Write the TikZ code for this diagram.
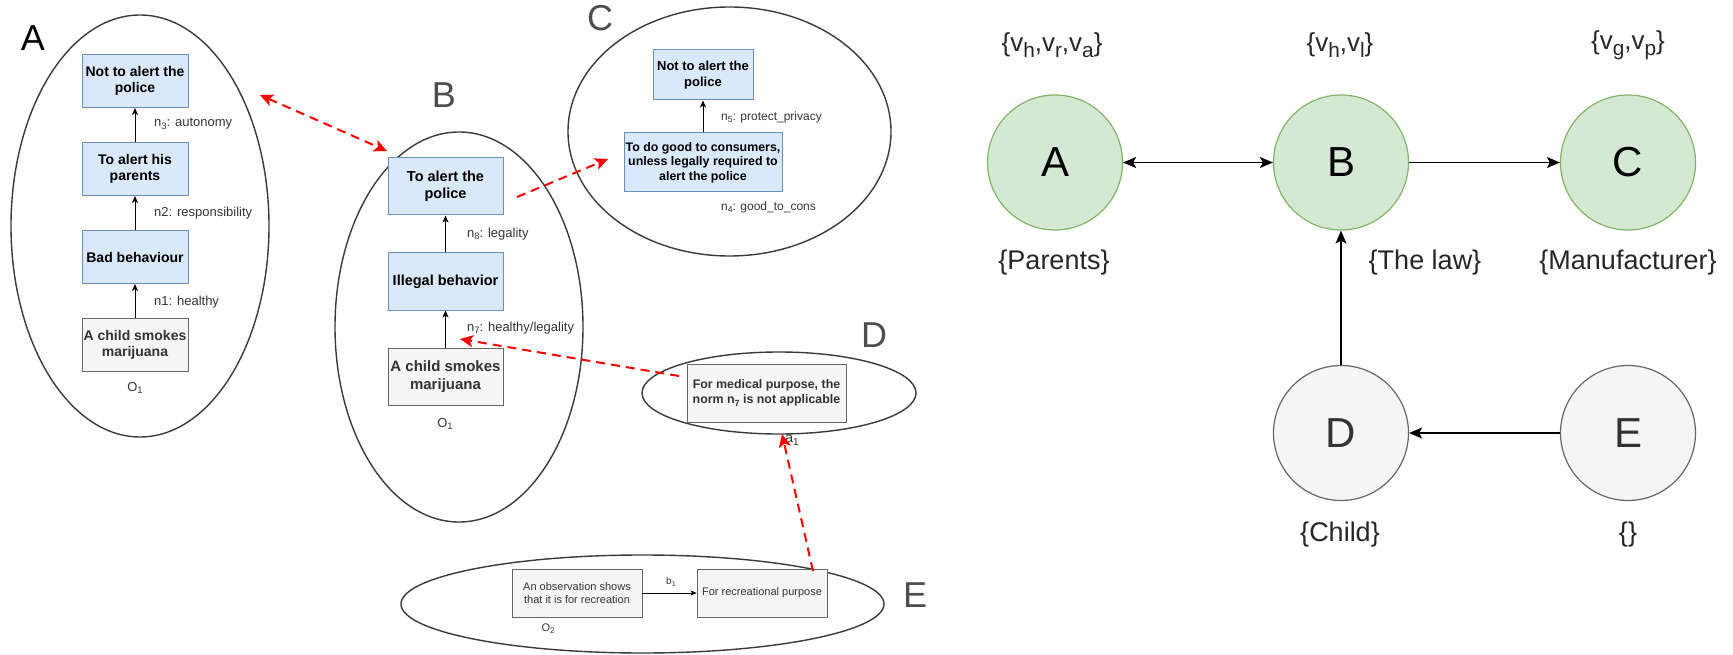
\documentclass[tikz,border=0pt]{standalone}
\usepackage{fontspec}
\setmainfont{Liberation Sans}
\usetikzlibrary{arrows.meta,shapes.geometric}

\definecolor{boxblue}{HTML}{6C8EBF}
\definecolor{fillblue}{HTML}{DAE8FC}
\definecolor{boxgray}{HTML}{666666}
\definecolor{fillgray}{HTML}{F5F5F5}
\definecolor{txtgray}{HTML}{333333}
\definecolor{letgray}{HTML}{4D4D4D}
\definecolor{blobline}{HTML}{3A3A3A}
\definecolor{greenfill}{HTML}{D5E8D4}
\definecolor{greenline}{HTML}{82B366}
\definecolor{linkred}{HTML}{FF0000}

% lowered, smaller text used for indices
\newcommand{\lsub}[1]{\raisebox{-0.35ex}{\scalebox{0.72}{#1}}}
\newcommand{\vsub}[1]{\raisebox{-0.4ex}{\scalebox{0.8}{#1}}}

\tikzset{
  bluebox/.style={draw=boxblue, fill=fillblue, line width=1pt, align=center,
    inner sep=0pt, font=\fontsize{14}{16.5}\selectfont\bfseries},
  graybox/.style={draw=boxgray, fill=fillgray, text=txtgray, line width=1pt,
    align=center, inner sep=0pt, font=\fontsize{14}{16.5}\selectfont\bfseries},
  plainbox/.style={draw=boxgray, fill=fillgray, text=txtgray, line width=0.8pt,
    align=center, inner sep=0pt, font=\fontsize{11}{13.5}\selectfont},
  setblob/.style={ellipse, draw=blobline, line width=1.4pt, inner sep=0pt},
  nlabel/.style={anchor=west, text=txtgray, inner sep=0pt, font=\fontsize{13}{15}\selectfont},
  olabel/.style={text=txtgray, inner sep=0pt, font=\fontsize{13}{15}\selectfont},
  bigletter/.style={inner sep=0pt, text=letgray, font=\fontsize{36}{40}\selectfont},
  support/.style={draw=black, line width=0.9pt, -{Stealth[length=7pt,width=6pt,inset=2pt]}},
  redlink/.style={draw=linkred, line width=2pt, dash pattern=on 9pt off 6pt,
    -{Stealth[length=13pt,width=12pt,inset=3pt]}},
  agent/.style={circle, minimum size=135pt, inner sep=0pt, line width=1.2pt,
    font=\fontsize{42}{46}\selectfont},
  greenagent/.style={agent, draw=greenline, fill=greenfill, text=black},
  grayagent/.style={agent, draw=boxgray, fill=fillgray, text=txtgray},
  setlabel/.style={inner sep=0pt, text=black!85, font=\fontsize{27}{30}\selectfont},
  valuelabel/.style={setlabel, font=\fontsize{26}{29}\selectfont},
  flow/.style={draw=black, line width=1.4pt, -{Stealth[length=13pt,width=11pt,inset=3pt]}}
}

\begin{document}
\begin{tikzpicture}[x=1pt,y=-1pt]
\useasboundingbox (0,0) rectangle (1733,655);

% ---------- argument sets ----------
\node[setblob, minimum width=258pt, minimum height=422pt] (setA) at (140,226) {};
\node[setblob, minimum width=248pt, minimum height=390pt] (setB) at (459,327) {};
\node[setblob, minimum width=323pt, minimum height=249pt] (setC) at (729.5,131.5) {};
\node[setblob, minimum width=274pt, minimum height=82pt] (setD) at (779,393) {};
\node[setblob, minimum width=483pt, minimum height=98pt] (setE) at (642.5,604) {};

\node[bigletter, text=black] (labA) at (33,38) {A};
\node[bigletter] (labB) at (444,95) {B};
\node[bigletter] (labC) at (600,18) {C};
\node[bigletter] (labD) at (874,335) {D};
\node[bigletter] (labE) at (915,595) {E};

% ---------- set A ----------
\node[bluebox, minimum width=106pt, minimum height=53pt] (a4) at (135,81) {Not to alert the\\police};
\node[bluebox, minimum width=106pt, minimum height=53pt] (a3) at (135,169) {To alert his\\parents};
\node[bluebox, minimum width=106pt, minimum height=53pt] (a2) at (135,257) {Bad behaviour};
\node[graybox, minimum width=106pt, minimum height=53pt] (a1) at (135,345) {A child smokes\\marijuana};
\draw[support] (a1) -- (a2);
\draw[support] (a2) -- (a3);
\draw[support] (a3) -- (a4);
\node[nlabel] (an3) at (154,124) {n\lsub{3}: autonomy};
\node[nlabel] (an2) at (154,213) {n2: responsibility};
\node[nlabel] (an1) at (154,302) {n1: healthy};
\node[olabel] (ao) at (135,388) {O\lsub{1}};

% ---------- set B ----------
\node[bluebox, font=\fontsize{14.5}{17}\selectfont\bfseries, minimum width=115pt, minimum height=57pt] (b3) at (445.5,186.5) {To alert the\\police};
\node[bluebox, font=\fontsize{14.5}{17}\selectfont\bfseries, minimum width=115pt, minimum height=57pt] (b2) at (445.5,281.5) {Illegal behavior};
\node[graybox, font=\fontsize{15}{17.5}\selectfont\bfseries, minimum width=115pt, minimum height=57pt] (b1) at (445.5,376.5) {A child smokes\\marijuana};
\draw[support] (b1) -- (b2);
\draw[support] (b2) -- (b3);
\node[nlabel] (bn8) at (467,234) {n\lsub{8}: legality};
\node[nlabel] (bn7) at (467,328) {n\lsub{7}: healthy/legality};
\node[olabel] (bo) at (445,424) {O\lsub{1}};

% ---------- set C ----------
\node[bluebox, font=\fontsize{13}{15.5}\selectfont\bfseries, minimum width=100pt, minimum height=50pt] (c2) at (703,75) {Not to alert the\\police};
\node[bluebox, font=\fontsize{12.4}{14.5}\selectfont\bfseries, minimum width=158pt, minimum height=59pt] (c1) at (703,162.5) {To do good to consumers,\\unless legally required to\\alert the police};
\draw[support] (c1) -- (c2);
\node[nlabel, font=\fontsize{12}{14}\selectfont] (cn5) at (721,117) {n\lsub{5}: protect\_privacy};
\node[nlabel, font=\fontsize{12}{14}\selectfont] (cn4) at (721,207) {n\lsub{4}: good\_to\_cons};

% ---------- set D ----------
\node[graybox, font=\fontsize{12.4}{15}\selectfont\bfseries, minimum width=159pt, minimum height=58pt] (d1) at (766.5,393) {For medical purpose, the\\norm n\lsub{7} is not applicable};
\node[inner sep=0pt, text=txtgray, font=\fontsize{14}{16}\selectfont] (da) at (792,440) {a\lsub{1}};

% ---------- set E ----------
\node[plainbox, minimum width=130pt, minimum height=48pt] (e1) at (577,593) {An observation shows\\that it is for recreation};
\node[plainbox, minimum width=130pt, minimum height=48pt] (e2) at (762,593) {For recreational purpose};
\draw[support, line width=0.7pt, -{Stealth[length=6pt,width=5pt,inset=1.5pt]}] (e1) -- (e2);
\node[inner sep=0pt, text=txtgray, font=\fontsize{10}{12}\selectfont] (eb) at (671,582) {b\lsub{1}};
\node[inner sep=0pt, text=txtgray, font=\fontsize{11}{13}\selectfont] (eo) at (548,629) {O\lsub{2}};

% ---------- attacks between sets ----------
\coordinate (abA) at (260,95);
\coordinate (abB) at (387,151);
\coordinate (bcB) at (517,197);
\coordinate (bcC) at (608,159);
\coordinate (dbD) at (679,376);
\coordinate (dbB) at (460,339);
\coordinate (edE) at (813,571);
\coordinate (edD) at (782,434);
\draw[redlink, {Stealth[length=13pt,width=12pt,inset=3pt]}-{Stealth[length=13pt,width=12pt,inset=3pt]}] (abA) -- (abB);
\draw[redlink] (bcB) -- (bcC);
\draw[redlink] (dbD) -- (dbB);
\draw[redlink] (edE) -- (edD);

% ---------- agent graph ----------
\node[greenagent] (gA) at (1055,162.5) {A};
\node[greenagent] (gB) at (1341,162.5) {B};
\node[greenagent] (gC) at (1628,162.5) {C};
\node[grayagent] (gD) at (1341,433) {D};
\node[grayagent] (gE) at (1628,433) {E};

\draw[flow, {Stealth[length=13pt,width=11pt,inset=3pt]}-{Stealth[length=13pt,width=11pt,inset=3pt]}] (gA) -- (gB);
\draw[flow] (gB) -- (gC);
\draw[flow] (gD) -- (gB);
\draw[flow] (gE) -- (gD);

\node[valuelabel] (vA) at (1052,45) {\{v\vsub{h},v\vsub{r},v\vsub{a}\}};
\node[valuelabel] (vB) at (1340,45) {\{v\vsub{h},v\vsub{l}\}};
\node[valuelabel] (vC) at (1628,45) {\{v\vsub{g},v\vsub{p}\}};
\node[setlabel] (pA) at (1054,263) {\{Parents\}};
\node[setlabel] (pB) at (1425,263) {\{The law\}};
\node[setlabel] (pC) at (1628,263) {\{Manufacturer\}};
\node[setlabel] (pD) at (1340,535) {\{Child\}};
\node[setlabel] (pE) at (1628,535) {\{\}};

\end{tikzpicture}
\end{document}
